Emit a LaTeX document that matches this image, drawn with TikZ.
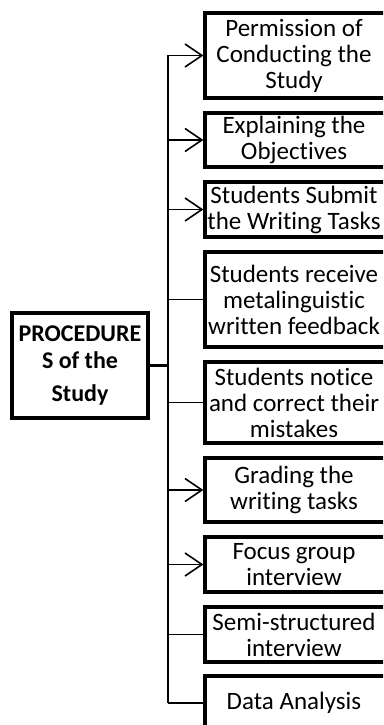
\documentclass[tikz,border=0pt]{standalone}
\usepackage{fontspec}
\setmainfont[Ligatures={NoCommon}]{Carlito}
\usetikzlibrary{arrows.meta}
\begin{document}
\begin{tikzpicture}[x=1pt,y=-1pt,
  stepbox/.style={draw, line width=3.2pt, minimum width=187pt, inner sep=0pt},
  steptext/.style={align=center, inner sep=0pt, font=\fontsize{25}{26}\selectfont},
  mainbox/.style={draw, line width=3.2pt, minimum width=136pt, minimum height=105pt,
    align=center, inner sep=0pt, font=\bfseries\fontsize{24}{27}\selectfont},
  branch/.style={line width=1.6pt},
  arrowbranch/.style={line width=1.6pt, -{Straight Barb[length=17pt,width=23pt,line width=1.6pt]}}
]
\useasboundingbox (0,0) rectangle (383,725);
\clip (0,0) rectangle (383,725);
\fill[white] (0,0) rectangle (383,725);

\node[mainbox] (main) at (80,365.5) {PROCEDURE\\S of the\\[6pt]Study};

\node[stepbox, minimum height=85pt] (b1) at (298.5,55.5) {};
\node[stepbox, minimum height=54pt] (b2) at (298.5,140) {};
\node[stepbox, minimum height=55pt] (b3) at (298.5,209.5) {};
\node[stepbox, minimum height=95pt] (b4) at (298.5,299.5) {};
\node[stepbox, minimum height=81pt] (b5) at (298.5,402.5) {};
\node[stepbox, minimum height=64pt] (b6) at (298.5,490) {};
\node[stepbox, minimum height=55pt] (b7) at (298.5,564.5) {};
\node[stepbox, minimum height=55pt] (b8) at (298.5,634.5) {};
\node[stepbox, minimum height=54pt] (b9) at (298.5,703) {};

\node[steptext] (l1) at ([xshift=-4.5pt]b1.center) {Permission of\\Conducting the\\Study};
\node[steptext] (l2) at ([xshift=-4.5pt]b2.center) {Explaining the\\Objectives};
\node[steptext] (l3) at ([xshift=-4.5pt]b3.center) {Students Submit\\the Writing Tasks};
\node[steptext] (l4) at ([xshift=-4.5pt]b4.center) {Students receive\\metalinguistic\\written feedback};
\node[steptext] (l5) at ([xshift=-4.5pt]b5.center) {Students notice\\and correct their\\mistakes};
\node[steptext] (l6) at ([xshift=-4.5pt]b6.center) {Grading the\\writing tasks};
\node[steptext] (l7) at ([xshift=-4.5pt]b7.center) {Focus group\\interview};
\node[steptext] (l8) at ([xshift=-4.5pt]b8.center) {Semi-structured\\interview};
\node[steptext] (l9) at ([xshift=-4.5pt]b9.center) {Data Analysis};

\coordinate (t1) at (168,55.5);
\coordinate (t2) at (168,140);
\coordinate (t3) at (168,209.5);
\coordinate (t4) at (168,299.5);
\coordinate (t5) at (168,402.5);
\coordinate (t6) at (168,490);
\coordinate (t7) at (168,564.5);
\coordinate (t8) at (168,634.5);
\coordinate (t9) at (168,703);
\coordinate (tm) at (168,365.5);

\draw[line width=1.6pt] (t1) -- (t9);
\draw[line width=3pt] (main.east) -- (tm);
\draw[arrowbranch] (t1) -- (b1.west);
\draw[arrowbranch] (t2) -- (b2.west);
\draw[arrowbranch] (t3) -- (b3.west);
\draw[branch] (t4) -- (b4.west);
\draw[branch] (t5) -- (b5.west);
\draw[arrowbranch] (t6) -- (b6.west);
\draw[arrowbranch] (t7) -- (b7.west);
\draw[branch] (t8) -- (b8.west);
\draw[branch] (t9) -- (b9.west);
\end{tikzpicture}
\end{document}
